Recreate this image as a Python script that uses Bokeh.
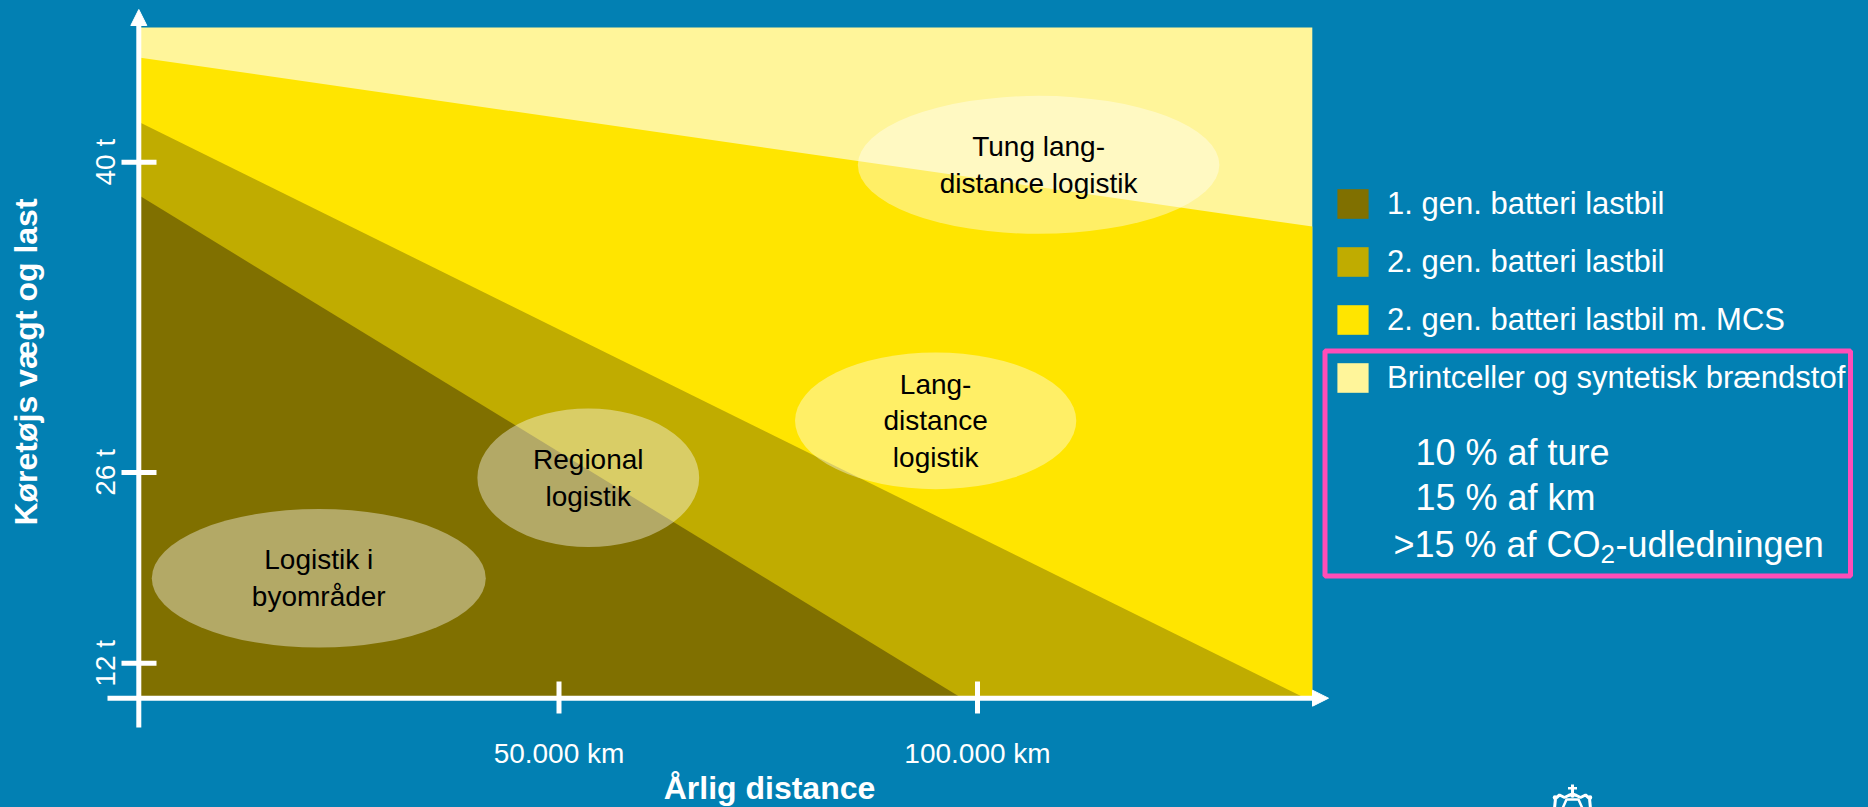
import math
from bokeh.plotting import figure
from bokeh.models import Range1d, Arrow, NormalHead, Legend, LegendItem
from bokeh.core.properties import value
from bokeh.embed import file_html
from bokeh.resources import INLINE

# ---------------- data ----------------
categories = ["1. gen. batteri lastbil", "2. gen. batteri lastbil",
              "2. gen. batteri lastbil m. MCS", "Brintceller og syntetisk brændstof"]
colors = ["#807000", "#c0ac00", "#ffe500", "#fff59a"]

distance_ticks_km = [50000, 100000]
distance_tick_labels = ["50.000 km", "100.000 km"]
weight_tick_labels = ["12 t", "26 t", "40 t"]
weight_tick_pos = [5.1, 33.6, 79.9]          # schematic weight axis, 0 = bottom, 100 = top

# region boundaries (x in km, y on schematic weight axis)
gen1_x = [0, 0, 98000]
gen1_y = [0, 74.8, 0]
gen2_x = [0, 0, 139000]
gen2_y = [0, 85.8, 0]
mcs_x = [0, 0, 140000, 140000]
mcs_y = [0, 95.5, 70.3, 0]
brint_x = [0, 0, 140000, 140000]
brint_y = [0, 100, 100, 0]

segments = ["Logistik i\nbyområder", "Regional\nlogistik",
            "Lang-\ndistance\nlogistik", "Tung lang-\ndistance logistik"]
segment_x_km = [21300, 53500, 95000, 107300]
segment_y = [17.8, 32.8, 41.3, 79.5]
segment_w_km = [39900, 26500, 33600, 43200]
segment_h = [20.7, 20.7, 20.4, 20.6]

share_lines = ["10 % af ture", "15 % af km", ">15 % af CO|2|-udledningen"]

x_title = "Årlig distance"
y_title = "Køretøjs vægt og last"

# ---------------- layout ----------------
BLUE = "#0280b3"
PINK = "#ff4db8"
W, H, OFF = 1860, 799, 8
X0_PX, PX_PER_KM = 140.0, 8.37 / 1000.0
Y0_PX, PX_PER_UNIT = 697.0, 6.7
FONT = "Liberation Sans"

def dx(px):
    return (px - X0_PX) / PX_PER_KM

def dy(py):
    return (Y0_PX - py) / PX_PER_UNIT

p = figure(width=W, height=H, x_axis_type=None, y_axis_type=None,
           x_range=Range1d(dx(OFF), dx(OFF + W)),
           y_range=Range1d(dy(OFF + H), dy(OFF)),
           toolbar_location=None, output_backend="svg",
           min_border_left=0, min_border_right=0, min_border_top=0, min_border_bottom=0)
p.background_fill_color = BLUE
p.border_fill_color = BLUE
p.outline_line_color = None

r_brint = p.patch(brint_x, brint_y, fill_color=colors[3], line_color=None)
r_mcs = p.patch(mcs_x, mcs_y, fill_color=colors[2], line_color=None)
r_gen2 = p.patch(gen2_x, gen2_y, fill_color=colors[1], line_color=None)
r_gen1 = p.patch(gen1_x, gen1_y, fill_color=colors[0], line_color=None)

p.ellipse(x=segment_x_km, y=segment_y, width=segment_w_km, height=segment_h,
          fill_color="white", fill_alpha=0.4, line_color=None)
p.text(x=segment_x_km, y=segment_y, text=segments, text_align="center", text_baseline="middle",
       text_font=value(FONT), text_font_size="28px", text_color="black",
       text_line_height=1.18)

# ---------------- axes (drawn through the data scales) ----------------
AX_X = dx(138.3)
AX_Y = dy(697.7)

p.add_layout(Arrow(end=NormalHead(size=16, fill_color="white", line_color="white"),
                   x_start=AX_X, y_start=dy(727), x_end=AX_X, y_end=dy(9),
                   line_color="white", line_width=5))
p.add_layout(Arrow(end=NormalHead(size=16, fill_color="white", line_color="white"),
                   x_start=dx(107), y_start=AX_Y, x_end=dx(1328), y_end=AX_Y,
                   line_color="white", line_width=5))

# x ticks
p.segment(x0=distance_ticks_km, x1=distance_ticks_km,
          y0=[dy(681)] * len(distance_ticks_km), y1=[dy(713)] * len(distance_ticks_km),
          line_color="white", line_width=5)
p.text(x=distance_ticks_km, y=[dy(753)] * len(distance_ticks_km), text=distance_tick_labels,
       text_align="center", text_baseline="middle", text_font=value(FONT),
       text_font_size="28px", text_color="white")

# y ticks
p.segment(x0=[dx(121)] * len(weight_tick_pos), x1=[dx(156)] * len(weight_tick_pos),
          y0=weight_tick_pos, y1=weight_tick_pos, line_color="white", line_width=5)
p.text(x=[dx(105)] * len(weight_tick_pos), y=weight_tick_pos, text=weight_tick_labels,
       angle=math.pi / 2, text_align="center", text_baseline="middle", text_font=value(FONT),
       text_font_size="28px", text_color="white")

# axis titles
p.text(x=[dx(769)], y=[dy(787.5)], text=[x_title], text_align="center",
       text_baseline="middle", text_font=value(FONT), text_font_style="bold",
       text_font_size="32px", text_color="white")
p.text(x=[dx(25)], y=[dy(361.5)], text=[y_title], angle=math.pi / 2, text_align="center",
       text_baseline="middle", text_font=value(FONT), text_font_style="bold",
       text_font_size="32px", text_color="white")

# ---------------- legend ----------------
legend = Legend(items=[LegendItem(label=categories[0], renderers=[r_gen1]),
                       LegendItem(label=categories[1], renderers=[r_gen2]),
                       LegendItem(label=categories[2], renderers=[r_mcs]),
                       LegendItem(label=categories[3], renderers=[r_brint])],
                location=(1333 - OFF, OFF + H - 396), orientation="vertical",
                glyph_width=39, glyph_height=37, label_height=37, label_standoff=15,
                spacing=21, padding=0, margin=0, border_line_color=None,
                background_fill_alpha=0, label_text_color="white",
                label_text_font=FONT, label_text_font_size="31px")
p.add_layout(legend)

p.quad(left=[dx(1324.5)], right=[dx(1850)], top=[dy(350.5)], bottom=[dy(575.5)],
       fill_color=None, line_color=PINK, line_width=5)

txt = dict(text_font=value(FONT), text_color="white",
           text_align="left", text_baseline="middle")
p.text(x=[dx(1415), dx(1415)], y=[dy(452), dy(497)], text=share_lines[:2],
       text_font_size="36px", **txt)
co2_a, co2_sub, co2_b = share_lines[2].split("|")
p.text(x=[dx(1393), dx(1615)], y=[dy(543.5), dy(543.5)], text=[co2_a, co2_b],
       text_font_size="36px", **txt)
p.text(x=[dx(1600)], y=[dy(553)], text=[co2_sub], text_font_size="26px", **txt)

# ---------------- small crown logo (bottom right) ----------------
p.line(x=[dx(v) for v in [1554, 1555, 1559, 1564, 1568, 1572, 1576, 1580, 1585, 1589, 1590]],
       y=[dy(v) for v in [808, 798, 794.5, 797, 795, 793.5, 795, 797, 794.5, 798, 808]],
       line_color="white", line_width=3)
p.line(x=[dx(1562), dx(1566), dx(1578), dx(1582)],
       y=[dy(808), dy(799), dy(799), dy(808)], line_color="white", line_width=2.5)
p.quad(left=[dx(1570.5)], right=[dx(1573.5)], top=[dy(784)], bottom=[dy(793)],
       fill_color="white", line_color=None)
p.quad(left=[dx(1567.5)], right=[dx(1576.5)], top=[dy(786.5)], bottom=[dy(789)],
       fill_color="white", line_color=None)
p.scatter(x=[dx(1554.5), dx(1572), dx(1589.5)], y=[dy(797), dy(795), dy(797)],
          size=4.5, marker="circle", fill_color="white", line_color=None)

TEMPLATE = """{% block postamble %}<style>
html { background: #0280b3; overflow: hidden; }
body { margin: 8px !important; background: #0280b3; overflow: hidden; }
</style>{% endblock %}"""

open("out.html", "w").write(file_html(p, INLINE, template=TEMPLATE))
